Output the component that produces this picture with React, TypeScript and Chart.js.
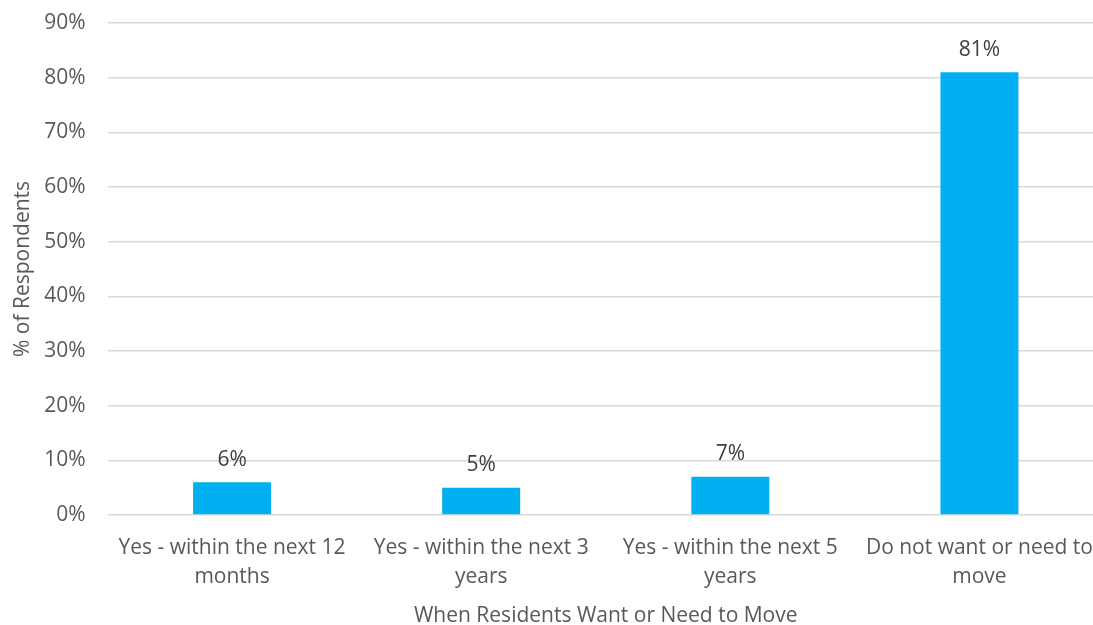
import React, { useEffect, useRef } from "react";
import { Chart, registerables } from "chart.js";

Chart.register(...registerables);

const categories: string[][] = [
  ["Yes - within the next 12", "months"],
  ["Yes - within the next 3", "years"],
  ["Yes - within the next 5", "years"],
  ["Do not want or need to", "move"],
];
const values: number[] = [6, 5, 7, 81];
const yTicks: number[] = [0, 10, 20, 30, 40, 50, 60, 70, 80, 90];

const FONT = "'Open Sans', sans-serif";
const TEXT = "#595959";
const SIZE = 21;

const labelPlugin = {
  id: "barLabels",
  afterDatasetsDraw(chart: any) {
    const ctx = chart.ctx;
    const meta = chart.getDatasetMeta(0);
    ctx.save();
    ctx.font = `${SIZE}px ${FONT}`;
    ctx.fillStyle = "#404040";
    ctx.textAlign = "center";
    ctx.textBaseline = "bottom";
    meta.data.forEach((bar: any, i: number) => {
      ctx.fillText(values[i] + "%", bar.x, bar.y - 12);
    });
    ctx.restore();
  },
};

export default function App() {
  const ref = useRef<HTMLCanvasElement>(null);
  useEffect(() => {
    if (!ref.current) return;
    const chart = new Chart(ref.current, {
      type: "bar",
      data: {
        labels: categories,
        datasets: [
          {
            data: values,
            backgroundColor: "#00B0F0",
            barPercentage: 0.313,
            categoryPercentage: 1,
          },
        ],
      },
      options: {
        animation: false,
        responsive: true,
        maintainAspectRatio: false,
        layout: { padding: { top: 23, right: 0, left: 0, bottom: 0 } },
        plugins: { legend: { display: false }, tooltip: { enabled: false } },
        scales: {
          x: {
            grid: { display: false },
            border: { display: false },
            ticks: {
              color: TEXT,
              font: { family: FONT, size: SIZE, lineHeight: 1.38 },
              maxRotation: 0,
              autoSkip: false,
              padding: 11,
            },
            title: {
              display: true,
              text: "When Residents Want or Need to Move",
              color: TEXT,
              font: { family: FONT, size: SIZE, lineHeight: 0.9 },
              padding: { top: 0, bottom: 0 },
            },
            afterFit(scale: any) {
              scale.height = 110;
            },
          },
          y: {
            min: 0,
            max: 90,
            afterBuildTicks(scale: any) {
              scale.ticks = yTicks.map((v) => ({ value: v }));
            },
            grid: { color: "#d9d9d9", lineWidth: 1.5, drawTicks: false },
            border: { display: false },
            ticks: {
              color: TEXT,
              font: { family: FONT, size: SIZE },
              padding: 22,
              callback: (v: any) => v + "%",
            },
            title: {
              display: true,
              text: "% of Respondents",
              color: TEXT,
              font: { family: FONT, size: SIZE },
              padding: { top: 10, bottom: 0 },
            },
            afterFit(scale: any) {
              scale.width = 107.5;
              scale.paddingTop = 0;
              scale.paddingBottom = 0;
            },
          },
        },
      },
      plugins: [labelPlugin],
    });
    return () => chart.destroy();
  }, []);
  return (
    <div
      style={{
        position: "absolute",
        left: 0,
        top: 0,
        width: 1093,
        height: 625,
        overflow: "hidden",
        background: "#fff",
      }}
    >
      <div style={{ width: 1104, height: 625, position: "relative" }}>
        <canvas ref={ref} />
      </div>
    </div>
  );
}
